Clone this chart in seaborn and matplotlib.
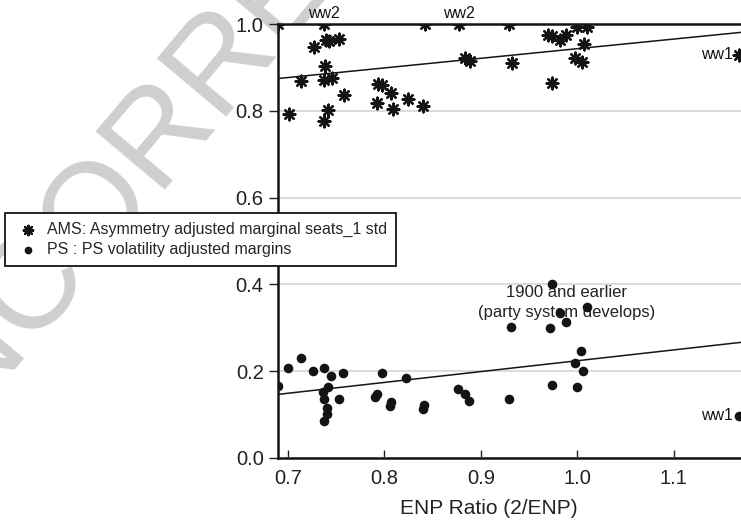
import numpy as np
import matplotlib.pyplot as plt
import seaborn as sns

# AMS: asymmetry adjusted marginal seats (stars)
ams_x = [0.690, 0.701, 0.713, 0.727, 0.737, 0.739, 0.743, 0.753, 0.738, 0.737,
         0.746, 0.741, 0.737, 0.758, 0.793, 0.797, 0.807, 0.792, 0.809, 0.824,
         0.840, 0.842, 0.877, 0.884, 0.889, 0.929, 0.932, 0.970, 0.974, 0.982,
         0.988, 0.974, 1.000, 1.010, 1.007, 0.998, 1.005, 1.168]
ams_y = [1.000, 0.793, 0.869, 0.948, 1.000, 0.963, 0.961, 0.965, 0.903, 0.871,
         0.875, 0.802, 0.776, 0.836, 0.862, 0.859, 0.842, 0.819, 0.805, 0.827,
         0.811, 1.000, 1.000, 0.921, 0.915, 1.000, 0.911, 0.975, 0.972, 0.963,
         0.975, 0.863, 0.994, 0.994, 0.955, 0.921, 0.913, 0.929]

# PS: volatility adjusted margins (dots)
ps_x = [0.690, 0.700, 0.713, 0.726, 0.737, 0.745, 0.757, 0.736, 0.742, 0.737,
        0.753, 0.740, 0.740, 0.737, 0.797, 0.792, 0.790, 0.807, 0.806, 0.822,
        0.841, 0.840, 0.876, 0.883, 0.888, 0.929, 0.931, 0.974, 0.972, 0.982,
        0.988, 1.010, 0.974, 1.004, 0.998, 1.006, 1.000, 1.168]
ps_y = [0.167, 0.208, 0.231, 0.200, 0.208, 0.188, 0.195, 0.151, 0.163, 0.137,
        0.135, 0.116, 0.101, 0.086, 0.195, 0.147, 0.140, 0.128, 0.120, 0.184,
        0.121, 0.112, 0.160, 0.147, 0.132, 0.135, 0.301, 0.402, 0.300, 0.333,
        0.313, 0.347, 0.169, 0.247, 0.220, 0.200, 0.164, 0.097]

ams_label = 'AMS: Asymmetry adjusted marginal seats_1 std'
ps_label = 'PS : PS volatility adjusted margins'

# which points carry a text tag
ww2_points = [4, 22]
ww1_point = 37

x_ticks = [0.7, 0.8, 0.9, 1.0, 1.1]
y_ticks = [0.0, 0.2, 0.4, 0.6, 0.8, 1.0]

sns.set_style('white')
plt.rcParams['font.family'] = ['Liberation Sans', 'DejaVu Sans']

ink = '#141414'

fig = plt.figure(figsize=(7.41, 5.23), dpi=100)
ax = fig.add_axes([0.3756, 0.1243, 0.664, 0.8298])
ax.set_facecolor('white')

# watermark behind the plot
fig.text(0.283, 0.862, 'UNCORRECTED', fontsize=95, color='#cfcfcf',
         rotation=50, ha='center', va='center', rotation_mode='anchor',
         zorder=-1)

ax.set_xlim(0.69, 1.2)
ax.set_ylim(0.0, 1.0)

sns.regplot(x=np.array(ams_x), y=np.array(ams_y), ax=ax, ci=None, truncate=False,
            marker=(8, 2, 0), color=ink, label=ams_label,
            scatter_kws=dict(s=70, linewidths=1.7, alpha=1, zorder=3),
            line_kws=dict(lw=1.1, zorder=2))
sns.regplot(x=np.array(ps_x), y=np.array(ps_y), ax=ax, ci=None, truncate=False,
            marker='o', color=ink, label=ps_label,
            scatter_kws=dict(s=48, linewidths=0, alpha=1, zorder=3),
            line_kws=dict(lw=1.1, zorder=2))

ax.set_xlim(0.69, 1.2)
ax.set_ylim(0.0, 1.0)

for i in ww2_points:
    ax.annotate('ww2', (ams_x[i], ams_y[i]), xytext=(0, 4.5), textcoords='offset points',
                ha='center', va='baseline', fontsize=11.5, color=ink, annotation_clip=False)
ax.annotate('ww1', (ams_x[ww1_point], ams_y[ww1_point]), xytext=(-5, 0),
            textcoords='offset points', ha='right', va='center', fontsize=11.5, color=ink)
ax.annotate('ww1', (ps_x[ww1_point], ps_y[ww1_point]), xytext=(-5, 0),
            textcoords='offset points', ha='right', va='center', fontsize=11.5, color=ink)

ax.text(0.989, 0.358, '1900 and earlier\n(party system develops)', ha='center', va='center',
        fontsize=12, color='#222222', linespacing=1.45, zorder=1)

ax.set_xticks(x_ticks)
ax.set_yticks(y_ticks)
ax.set_xticklabels([f'{t:.1f}' for t in x_ticks])
ax.set_yticklabels([f'{t:.1f}' for t in y_ticks])
ax.tick_params(axis='x', direction='in', length=6, width=1, pad=8, labelsize=14.5,
               colors='#222222', bottom=True)
ax.tick_params(axis='y', direction='out', length=6.5, width=1, pad=4, labelsize=14.5,
               colors='#222222', left=True)

ax.yaxis.grid(True, color='#d9d9d9', lw=1.3)
ax.xaxis.grid(False)
ax.set_axisbelow(True)

for side in ['left', 'bottom', 'top']:
    ax.spines[side].set_color(ink)
    ax.spines[side].set_linewidth(1.8)
ax.spines['right'].set_visible(False)

ax.set_xlabel('ENP Ratio (2/ENP)', fontsize=15, color='#222222')
ax.xaxis.set_label_coords(0.427, -0.095)
ax.set_ylabel('')

leg = ax.legend(loc='upper left', bbox_to_anchor=(5 / 741, 1 - 213 / 523),
                bbox_transform=fig.transFigure, borderaxespad=0, fontsize=11.5,
                frameon=True, fancybox=False, framealpha=1, edgecolor=ink,
                handlelength=1.8, handletextpad=0.3, borderpad=0.55,
                labelspacing=0.3, markerscale=0.8)
leg.get_frame().set_linewidth(1.3)

fig.savefig('out.png', dpi=100)
